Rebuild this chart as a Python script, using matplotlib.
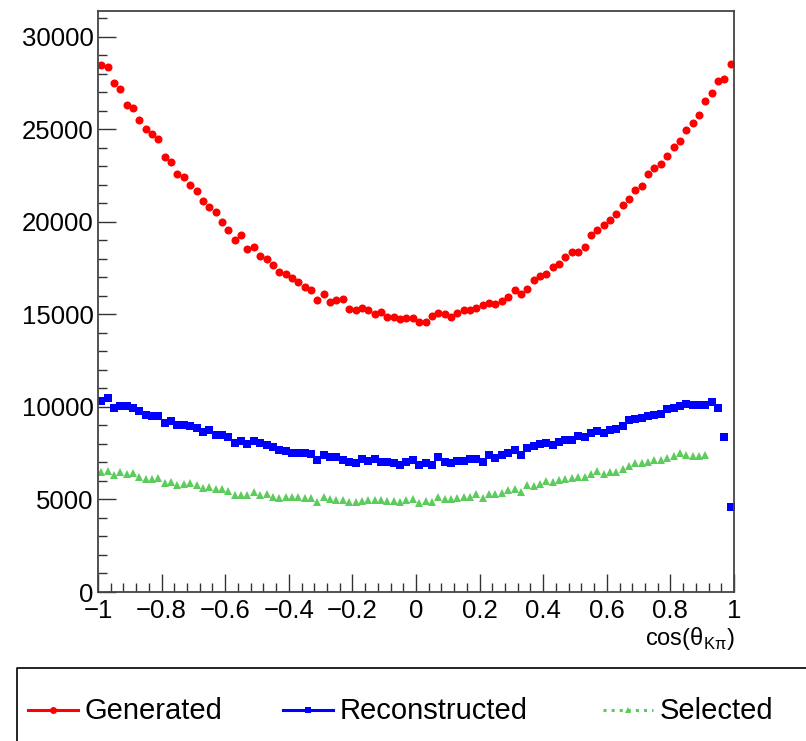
import numpy as np
import matplotlib
matplotlib.use('Agg')
import matplotlib.pyplot as plt

plt.rcParams['font.family'] = ['Liberation Sans', 'DejaVu Sans']

# histogram binning: 100 bins on [-1, 1]
n_bins = 100
x_range = (-1.0, 1.0)

generated = [28500, 28370, 27520, 27160, 26320, 26150, 25500, 25040, 24730, 24460,
             23520, 23230, 22590, 22420, 22010, 21650, 21130, 20800, 20550, 19970,
             19590, 19050, 19320, 18530, 18620, 18150, 18010, 17650, 17310, 17160,
             16980, 16770, 16460, 16330, 15790, 16100, 15700, 15790, 15850, 15270,
             15230, 15360, 15250, 15040, 15130, 14870, 14870, 14750, 14820, 14830,
             14600, 14600, 14930, 15070, 15020, 14870, 15090, 15250, 15230, 15360,
             15490, 15610, 15540, 15740, 15940, 16310, 16130, 16390, 16870, 17070,
             17180, 17560, 17720, 18080, 18370, 18350, 18660, 19290, 19590, 19830,
             20080, 20440, 20910, 21250, 21700, 21940, 22590, 22930, 23110, 23590,
             24060, 24390, 24950, 25360, 25760, 26510, 26980, 27630, 27740, 28550]

reconstructed = [10330, 10480, 9970, 10060, 10030, 9960, 9760, 9580, 9490, 9490,
                 9160, 9220, 9000, 9000, 8950, 8860, 8660, 8780, 8510, 8460,
                 8350, 8050, 8140, 7990, 8170, 8030, 7920, 7810, 7690, 7630,
                 7520, 7520, 7490, 7450, 7130, 7420, 7290, 7270, 7140, 7020,
                 6960, 7180, 7090, 7180, 7050, 7000, 6960, 6870, 7000, 7140,
                 6870, 6960, 6840, 7270, 7050, 6960, 7090, 7090, 7200, 7200,
                 7050, 7420, 7230, 7420, 7520, 7690, 7420, 7780, 7870, 7990,
                 8050, 7960, 8100, 8230, 8230, 8410, 8350, 8620, 8680, 8620,
                 8770, 8800, 8950, 9270, 9330, 9400, 9520, 9580, 9630, 9870,
                 9970, 10030, 10170, 10100, 10080, 10080, 10280, 9920, 8350, 4570]

# last four bins of the selected sample are empty
selected = [6510, 6550, 6300, 6480, 6370, 6440, 6190, 6100, 6100, 6150,
            5880, 5940, 5760, 5830, 5870, 5790, 5600, 5650, 5560, 5540,
            5470, 5220, 5250, 5250, 5430, 5220, 5290, 5110, 5070, 5160,
            5110, 5160, 5070, 5070, 4860, 5130, 5020, 4980, 4950, 4890,
            4840, 4930, 4980, 4950, 4960, 4930, 4910, 4890, 4950, 5040,
            4830, 4930, 4860, 5110, 5000, 5020, 5070, 5110, 5110, 5290,
            5070, 5320, 5320, 5340, 5520, 5580, 5430, 5760, 5720, 5850,
            5990, 5940, 6060, 6120, 6150, 6190, 6240, 6370, 6550, 6370,
            6510, 6460, 6660, 6820, 6950, 6980, 7020, 7110, 7140, 7230,
            7340, 7490, 7420, 7360, 7360, 7400]

labels = ['Generated', 'Reconstructed', 'Selected']
colors = ['#ff0000', '#0000ff', '#5ccc5c']
x_ticks = [-1, -0.8, -0.6, -0.4, -0.2, 0, 0.2, 0.4, 0.6, 0.8, 1]
x_ticklabels = ['\u22121', '\u22120.8', '\u22120.6', '\u22120.4', '\u22120.2', '0',
                '0.2', '0.4', '0.6', '0.8', '1']
y_ticks = [0, 5000, 10000, 15000, 20000, 25000, 30000]
y_max = 31400

W, H = 806, 741
fig = plt.figure(figsize=(W / 100, H / 100), dpi=100)
ax = fig.add_axes([98 / W, 1 - 592 / H, (734 - 98) / W, (592 - 11) / H])

edges = np.linspace(x_range[0], x_range[1], n_bins + 1)
centers = 0.5 * (edges[:-1] + edges[1:])

ax.plot(centers, generated, 'o', color=colors[0], ms=5.8, mew=0, linestyle='none')
ax.plot(centers, reconstructed, 's', color=colors[1], ms=5.8, mew=0, linestyle='none')
ax.plot(centers[:len(selected)], selected, '^', color=colors[2], ms=5.8, mew=0, linestyle='none')

ax.set_xlim(*x_range)
ax.set_ylim(0, y_max)
ax.set_xticks(x_ticks)
ax.set_xticklabels(x_ticklabels)
ax.set_xticks(np.arange(-1, 1.0001, 0.04), minor=True)
ax.set_yticks(y_ticks)
ax.set_yticklabels([str(v) for v in y_ticks])
ax.set_yticks(np.arange(0, y_max, 1000), minor=True)

ax.tick_params(which='both', direction='in', top=False, right=False, labelsize=18.5, color='#333333')
ax.tick_params(axis='y', which='major', length=13, width=1, pad=3)
ax.tick_params(axis='y', which='minor', length=6.5, width=1)
ax.tick_params(axis='x', which='major', length=13, width=1, pad=5)
ax.tick_params(axis='x', which='minor', length=6.5, width=1)
for s in ax.spines.values():
    s.set_color('#444444')
    s.set_linewidth(1.3)

fig.text(735 / W, 1 - 639 / H, 'cos(\u03b8$_{\\mathregular{K\u03c0}}$)', ha='right', va='center', fontsize=17)

# legend box below the frame, cut by the canvas edge
lax = fig.add_axes([0, 0, 1, (H - 668) / H])
lax.set_xlim(0, W)
lax.set_ylim(H, 668)
lax.axis('off')
lax.plot([17, 17, W], [H, 668, 668], color='black', lw=1.2, clip_on=False)
entry_x = [28, 283, 603]
styles = [('-', 'o'), ('-', 's'), (':', '^')]
for ex, lab, col, (ls, mk) in zip(entry_x, labels, colors, styles):
    lax.plot([ex, ex + 50], [710, 710], color=col, ls=ls, lw=2.2)
    lax.plot([ex + 25], [710], marker=mk, color=col, ms=5, mew=0)
    lax.text(ex + 57, 711, lab, ha='left', va='center', fontsize=21)

fig.savefig('out.png', dpi=100)
